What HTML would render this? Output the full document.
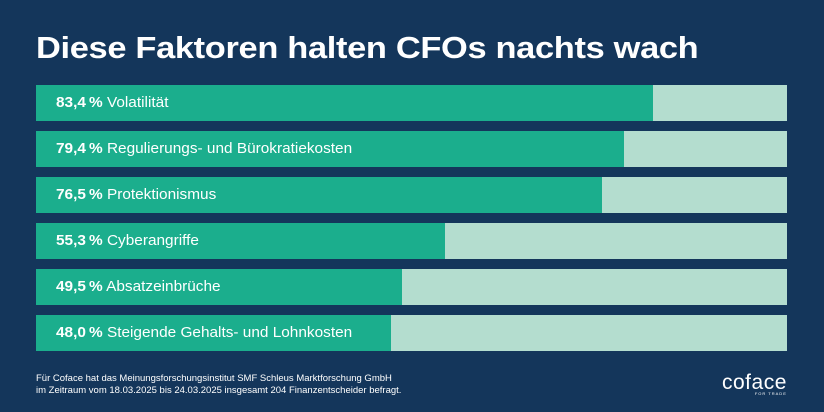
<!DOCTYPE html>
<html><head><meta charset="utf-8">
<style>
body{margin:0;width:824px;height:412px;background:#14365b;font-family:"Liberation Sans",sans-serif;overflow:hidden;position:relative}
#title{position:absolute;left:36px;top:30px;color:#fff;font-size:31px;font-weight:bold;letter-spacing:-0.3px;margin:0;transform:scaleX(1.11);transform-origin:left top;white-space:nowrap}
.track{position:absolute;left:36px;width:751px;height:36px;background:#b4ddcf}
.fill{position:absolute;left:0;top:0;height:36px;background:#1bae8d}
.lbl{position:absolute;left:20px;top:0;line-height:36px;color:#fff;font-size:14.5px;white-space:nowrap;transform:scaleX(1.06);transform-origin:left center}
.lbl b{font-weight:bold}
#foot{position:absolute;left:36px;top:373px;color:#fff;font-size:9.5px;line-height:12px}
#logo{position:absolute;left:722px;top:371px;color:#fff;font-size:21px;letter-spacing:0.5px}
#logo span{display:block;font-size:4px;text-align:right;letter-spacing:1px;margin-top:-4px}
</style></head><body>
<h1 id="title">Diese Faktoren halten CFOs nachts wach</h1>
<div id="chart"></div>
<div id="foot">Für Coface hat das Meinungsforschungsinstitut SMF Schleus Marktforschung GmbH<br>im Zeitraum vom 18.03.2025 bis 24.03.2025 insgesamt 204 Finanzentscheider befragt.</div>
<div id="logo">coface<span>FOR TRADE</span></div>
<script>
const categories=["Volatilität","Regulierungs- und Bürokratiekosten","Protektionismus","Cyberangriffe","Absatzeinbrüche","Steigende Gehalts- und Lohnkosten"];
const values=[83.4,79.4,76.5,55.3,49.5,48.0];
const valueLabels=["83,4","79,4","76,5","55,3","49,5","48,0"];
const x=v=>v/100*740;
const y=i=>85+i*46;
const chart=document.getElementById('chart');
categories.forEach((c,i)=>{
  const t=document.createElement('div');t.className='track';t.style.top=y(i)+'px';
  
  
  const f=document.createElement('div');f.className='fill';f.style.width=x(values[i])+'px';
  
  
  const l=document.createElement('div');l.className='lbl';
  l.innerHTML='<b>'+valueLabels[i]+'\u2009%</b> '+c;
  
  
  t.appendChild(f);t.appendChild(l);chart.appendChild(t);
});
</script>
</body></html>
